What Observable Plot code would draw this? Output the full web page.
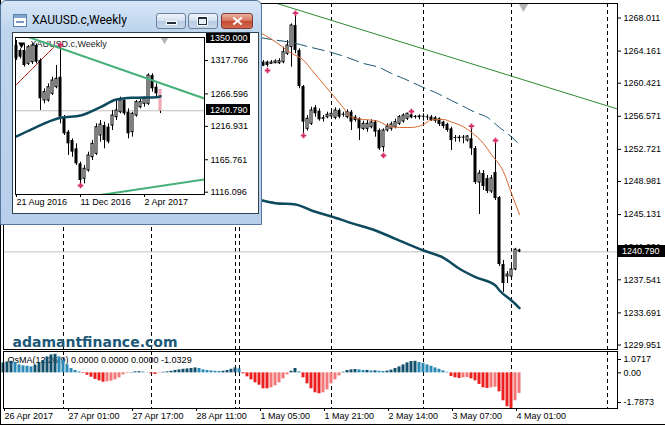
<!DOCTYPE html>
<html>
<head>
<meta charset="utf-8">
<script src="https://cdn.jsdelivr.net/npm/d3@7"></script>
<script src="https://cdn.jsdelivr.net/npm/@observablehq/plot@0.6"></script>
<style>
html,body{margin:0;padding:0;background:#fff;}
#root{position:relative;width:665px;height:425px;overflow:hidden;background:#fff;}
#main{position:absolute;left:0;top:0;width:665px;height:350px;}
#osma{position:absolute;left:0;top:350px;width:665px;height:75px;}
#edgeL{position:absolute;left:0;top:0;width:1px;height:425px;background:#000;}
#edgeB{position:absolute;left:0;top:424px;width:665px;height:1px;background:#000;}
#win{position:absolute;left:0;top:0;width:260px;height:223px;border:1px solid #56779c;border-radius:6px 6px 0 0;
  background:linear-gradient(180deg,#d6e6f7 0px,#bed5ee 28px,#b7cfea 100%);}
#win .title{position:absolute;left:31px;top:11px;font:12px Roboto,'Noto Sans',sans-serif;color:#000;line-height:16px;white-space:nowrap;}
#win .icon{position:absolute;left:12px;top:13px;width:12px;height:11px;border:1px solid #5d80a8;background:#fff;}
#win .icon .bar{position:absolute;left:0;top:0;width:12px;height:3px;background:#7ea4cf;}
#win .icon .ln{position:absolute;left:2px;top:6px;width:8px;height:2px;background:#7a9bbf;}
#win .btn{position:absolute;top:12px;height:14px;border:1px solid #6b8099;border-radius:3px;
  background:linear-gradient(180deg,#f0f5fb 0%,#d3e0ef 48%,#b7cbe2 52%,#c9d9eb 100%);}
#win .min{left:155px;width:28px;}
#win .max{left:187px;width:28px;}
#win .close{left:220px;width:30px;border-color:#7d3b31;
  background:linear-gradient(180deg,#eab0a2 0%,#d8755f 48%,#c54a31 52%,#d06a51 100%);}
#win .gmin{position:absolute;left:9px;top:7px;width:9px;height:2px;background:#1f2f40;border:1px solid #fff;}
#win .gmax{position:absolute;left:9px;top:3px;width:7px;height:5px;border:1px solid #1f2f40;border-top-width:2px;background:#e8f0f8;outline:1px solid #fff;}
#win .gx1,#win .gx2{position:absolute;left:10px;top:6px;width:11px;height:2px;background:#fff;}
#win .gx1{transform:rotate(40deg);} #win .gx2{transform:rotate(-40deg);}
#client{position:absolute;left:11px;top:31px;width:245px;height:180px;border:1px solid #33414f;background:#fff;overflow:hidden;}
</style>
</head>
<body>
<div id="root">
  <div id="main"></div>
  <div id="osma"></div>
  <div id="edgeL"></div>
  <div id="edgeB"></div>
  <div id="win">
    <div class="icon"><div class="bar"></div><div class="ln"></div></div>
    <div class="title" id="wtitle"></div>
    <div class="btn min"><div class="gmin"></div></div>
    <div class="btn max"><div class="gmax"></div></div>
    <div class="btn close"><div class="gx1"></div><div class="gx2"></div></div>
    <div id="client"></div>
  </div>
</div>
<script>
// ---------------- DATA: main H1 chart ----------------
const firstBar = 65;
const opens = [1262.87,1262.87,1262.68,1262.75,1262.75,1262.87,1263.84,1264.62,1267.14,1264.23,
1260.04,1255.11,1255.69,1257.56,1257.17,1256.28,1256.47,1256.55,1256.39,1257.25,
1256.78,1256.47,1257.05,1256.47,1256.28,1255.11,1255.11,1255.30,1255.89,1254.92,
1252.98,1254.92,1255.11,1255.31,1255.69,1255.97,1256.28,1256.74,1256.47,1256.47,
1256.55,1256.47,1256.47,1256.39,1256.28,1255.89,1255.62,1255.11,1254.06,1254.03,
1254.06,1253.75,1253.95,1252.82,1248.86,1249.91,1249.33,1247.82,1250.03,1247.12,
1239.32,1237.92,1237.92,1238.74,1241.00];
const highs = [1263.06,1262.99,1263.06,1263.14,1263.26,1264.62,1265.39,1267.33,1268.30,1264.42,
1260.15,1256.66,1257.63,1257.83,1257.44,1256.66,1257.05,1257.25,1257.56,1257.44,
1257.05,1257.32,1257.25,1256.66,1256.39,1256.00,1256.08,1256.16,1256.08,1255.11,
1255.11,1255.69,1255.89,1256.24,1256.66,1256.86,1256.95,1257.00,1256.66,1256.74,
1256.86,1256.74,1256.66,1256.55,1256.39,1256.00,1255.77,1255.31,1254.33,1254.33,
1254.33,1254.33,1255.11,1253.05,1250.26,1250.26,1249.68,1249.68,1253.40,1247.23,
1239.79,1238.50,1239.09,1241.20,1241.10];
const lows = [1262.35,1262.29,1262.60,1262.68,1262.60,1262.68,1263.65,1262.29,1263.84,1259.77,
1254.60,1254.85,1255.50,1256.47,1256.00,1255.89,1256.28,1256.28,1256.16,1256.28,
1256.47,1256.28,1254.92,1255.89,1253.75,1254.92,1254.72,1255.11,1254.14,1252.59,
1252.40,1254.72,1254.84,1255.11,1255.50,1255.77,1256.08,1256.28,1256.24,1256.16,
1256.00,1256.08,1255.97,1255.77,1255.38,1255.11,1254.72,1252.59,1253.56,1253.56,
1253.37,1253.56,1252.01,1248.63,1245.14,1247.93,1247.58,1247.58,1246.77,1239.09,
1236.06,1237.11,1237.46,1238.60,1240.70];
const closes = [1262.40,1262.48,1262.83,1262.95,1262.99,1264.03,1264.81,1267.14,1264.23,1260.04,
1255.89,1256.28,1257.25,1256.86,1256.16,1256.35,1256.74,1256.86,1257.25,1256.47,
1256.70,1257.05,1255.89,1256.08,1255.11,1255.69,1255.69,1255.85,1254.72,1252.78,
1254.92,1255.38,1255.62,1255.89,1256.47,1256.66,1256.86,1256.39,1256.43,1256.55,
1256.47,1256.39,1256.08,1256.00,1255.62,1255.38,1254.92,1253.75,1253.99,1254.06,
1254.03,1254.22,1252.79,1248.86,1249.91,1248.40,1247.82,1249.33,1247.00,1239.32,
1237.11,1238.15,1238.74,1241.05,1240.79];

const fractalBars = [66, 73, 75, 95, 102, 117, 123];
const fractalPrices = [1261.90, 1268.57, 1254.33, 1252.01, 1257.13, 1255.42, 1253.75];

const maSlowBars = [64, 68, 73, 77, 82, 87, 93, 98, 105, 110, 114, 118, 123, 124, 127, 129];
const maSlowValues = [1246.85,1246.46,1246.31,1245.61,1244.91,1244.13,1243.28,1242.31,1240.95,1240.10,1238.82,1237.84,1236.88,1236.30,1235.13,1234.24];
const maMidBars = [64, 67, 72, 77, 82, 86, 90, 94, 97, 100, 105, 108, 112, 116, 118, 121, 124, 126, 129];
const maMidValues = [1265.74,1265.51,1265.16,1264.58,1264.00,1263.41,1262.72,1262.25,1261.55,1260.97,1259.92,1259.34,1258.41,1257.48,1257.01,1256.43,1255.27,1254.57,1253.29];
const maFastBars = [64, 67, 72, 75, 77, 82, 85, 87, 90, 93, 96, 99, 102, 105, 107, 110, 112, 115, 117, 120, 122, 125, 127, 129];
const maFastValues = [1266.35,1265.55,1263.90,1263.10,1262.00,1259.22,1257.55,1256.47,1256.20,1256.08,1255.50,1255.27,1255.27,1255.62,1256.15,1256.20,1255.90,1255.35,1254.70,1253.40,1252.10,1250.10,1247.59,1245.14];

const trendBars = [60, 153.5];
const trendPrices = [1270.91, 1257.42];

const separatorBars = [15, 37, 58, 59, 82, 105, 127, 151];
const shiftMarkerBar = [130];
const bidPrice = 1240.79;
const priceTicks = [1268.011,1264.161,1260.421,1256.571,1252.721,1248.981,1245.131,1241.291,1237.541,1233.691,1229.951];
const priceDomain = [1229.428, 1269.699];
const watermark = "adamantfinance.com";

const timeIdx = [0, 16, 32, 48, 64, 80, 96, 112, 128];
const timeLabels = ["26 Apr 2017","27 Apr 01:00","27 Apr 17:00","28 Apr 11:00","1 May 05:00","1 May 21:00","2 May 14:00","3 May 07:00","4 May 01:00"];

// ---------------- DATA: OsMA ----------------
const osmaCaption = "OsMA(12,26,9) 0.0000 0.0000 0.0000 -1.0329";
const osmaTicks = [1.0717, 0, -1.7873];
const osmaValues = [
0.50,0.55,0.58,0.52,0.40,0.35,0.33,0.30,0.38,0.50,
0.62,0.80,0.90,0.93,0.80,0.65,0.40,0.22,0.12,0.05,
-0.03,-0.12,-0.22,-0.33,-0.40,-0.47,-0.45,-0.42,-0.35,-0.25,
-0.10,-0.03,0.02,0.05,0.06,0.04,0.01,-0.06,-0.08,-0.02,
0.03,0.05,0.08,0.12,0.15,0.18,0.20,0.22,0.25,0.22,
0.15,0.12,0.10,0.08,0.07,0.08,0.12,0.18,0.25,0.20,
-0.05,-0.20,-0.35,-0.50,-0.62,-0.80,-0.80,-0.75,-0.65,-0.50,
-0.30,-0.10,0.08,0.22,0.05,-0.25,-0.55,-0.80,-1.00,-1.05,
-1.00,-0.85,-0.55,-0.35,-0.15,0.03,0.12,0.15,0.17,0.15,
0.12,0.12,0.10,0.10,0.08,0.07,0.09,0.14,0.22,0.30,
0.40,0.50,0.57,0.58,0.52,0.48,0.40,0.33,0.25,0.18,
0.10,0.03,-0.18,-0.25,-0.28,-0.25,-0.24,-0.30,-0.40,-0.58,
-0.75,-0.78,-0.75,-0.72,-0.95,-1.40,-1.70,-1.78,-1.40,-1.03];

// ---------------- DATA: weekly inset ----------------
const wkTitle = "XAUUSD.c,Weekly";
const wkOpens = [1340.7,1333.1,1333.1,1312.7,1315.2,1340.7,1317.8,1256.5,1256.5,1266.7,
1276.9,1292.2,1231.0,1208.0,1195.3,1182.5,1159.5,1136.6,1149.3,1169.7,
1174.8,1202.9,1218.2,1215.7,1218.2,1231.0,1238.6,1256.5,1238.6,1208.0,
1233.5,1246.3,1251.4,1251.4,1294.8,1276.9,1272.5];
const wkHighs = [1348.4,1335.6,1343.3,1340.7,1343.3,1343.3,1320.3,1274.4,1282.0,1292.2,
1310.1,1338.0,1233.5,1210.6,1197.8,1190.1,1162.1,1157.0,1177.4,1195.3,
1220.8,1225.9,1223.3,1220.8,1241.2,1256.5,1261.6,1259.1,1243.7,1238.6,
1256.5,1259.1,1261.6,1297.4,1297.4,1282.0,1273.0];
const wkLows = [1317.8,1320.3,1307.6,1310.1,1311.6,1312.7,1241.2,1251.4,1254.0,1264.2,
1274.4,1220.8,1202.9,1172.3,1169.7,1157.0,1128.9,1128.9,1146.8,1164.6,
1172.3,1192.7,1182.5,1190.1,1210.6,1225.9,1236.1,1233.5,1197.8,1200.4,
1231.0,1243.7,1246.3,1248.9,1269.3,1261.6,1236.5];
const wkCloses = [1320.3,1322.9,1310.1,1338.2,1340.7,1315.2,1259.1,1269.3,1276.9,1287.1,
1289.7,1231.0,1205.5,1190.1,1177.4,1159.5,1134.0,1151.9,1172.3,1190.1,
1215.7,1219.7,1195.3,1192.7,1233.5,1241.2,1256.5,1236.1,1205.5,1236.1,
1254.0,1254.0,1259.1,1294.8,1274.4,1266.7,1240.79];
const wkMaBars = [0, 4, 11, 16, 21, 25, 29, 35, 36];
const wkMaValues = [1201.4,1213.2,1230.0,1233.5,1246.3,1258.0,1260.6,1261.6,1263.1];
const wkUpperBars = [0, 47], wkUpperPrices = [1360.0, 1259.57];
const wkLowerBars = [20, 47], wkLowerPrices = [1110.9, 1135.53];
const wkRedBars = [-0.25, 9.25], wkRedPrices = [1279.48, 1337.67];
const wkFractalBars = [11, 16], wkFractalPrices = [1341.5, 1126.3];
const wkTicks = [1317.766, 1266.596, 1216.931, 1165.761, 1116.096];
const wkBoxes = [1350.0, 1240.79];
const wkDomain = [1112.56, 1352.99];
const wkTimeIdx = [0, 16, 32];
const wkTimeLabels = ["21 Aug 2016", "11 Dec 2016", "2 Apr 2017"];
const wkShiftBar = [37];

// ---------------- helpers ----------------
const FONT = "'Liberation Sans', Arial, sans-serif";
const baseStyle = {fontFamily: FONT, fontSize: "9px", background: "transparent", color: "#000", overflow: "visible", maxWidth: "none"};
const pts = (xs, ys) => xs.map((x, k) => ({i: x, p: ys[k]}));

function candleMarks(data, minBody) {
  const norm = data.filter(d => !d.current);
  const down = norm.filter(d => d.c < d.o);
  const up = norm.filter(d => d.c >= d.o);
  const cur = data.filter(d => d.current);
  return [
    Plot.ruleX(data, {x: "i", y1: "l", y2: "h", stroke: "#000"}),
    Plot.rect(down, {x1: d => d.i - 0.375, x2: d => d.i + 0.375, y1: "c", y2: d => Math.max(d.o, d.c + minBody), fill: "#000"}),
    Plot.rect(up, {x1: d => d.i - 0.25, x2: d => d.i + 0.25, y1: "o", y2: d => Math.max(d.c, d.o + minBody * 0.4), fill: "#fff", stroke: "#000"}),
    Plot.rect(cur, {x1: d => d.i - 0.25, x2: d => d.i + 0.25, y1: d => Math.min(d.o, d.c), y2: d => Math.max(d.o, d.c), fill: "#f7c6ce", stroke: "#e893a3"})
  ];
}

function boxLabel(svg, x, yc, w, h, label) {
  const g = d3.select(svg).append("g").attr("text-anchor", "start");
  const top = Math.round(yc - h / 2);
  g.append("rect").attr("x", x).attr("y", top).attr("width", w).attr("height", h).attr("fill", "#000");
  g.append("text").attr("x", x + 4).attr("y", top + h / 2).attr("dy", "0.36em").attr("text-anchor", "start")
    .attr("fill", "#fff").attr("font-size", 9).attr("font-family", FONT).text(label);
}

// ---------------- main chart ----------------
const candles = opens.map((o, k) => ({i: firstBar + k, o, h: highs[k], l: lows[k], c: closes[k]}));
const fractals = pts(fractalBars, fractalPrices);

const mainPlot = Plot.plot({
  width: 665, height: 350,
  marginLeft: 3, marginRight: 48, marginTop: 3, marginBottom: 1,
  x: {domain: [0, 153.5], axis: null, label: null},
  y: {domain: priceDomain, label: null},
  style: {...baseStyle, background: "#fff"},
  marks: [
    Plot.ruleX(separatorBars, {x: d => d, stroke: "#000", strokeDasharray: "4,3"}),
    Plot.ruleY([bidPrice], {y: d => d, stroke: "#c0c0c0"}),
    Plot.text([watermark], {text: d => d, frameAnchor: "bottom-left", dx: 9, dy: -3, lineAnchor: "bottom", textAnchor: "start",
      fontFamily: "'DejaVu Sans', Verdana, sans-serif", fontWeight: "bold", fontSize: 14, fill: "#1c5878"}),
    ...candleMarks(candles, 0.12),
    Plot.line(pts(trendBars, trendPrices), {x: "i", y: "p", stroke: "#2f8a2f", strokeWidth: 1, clip: true}),
    Plot.line(pts(maSlowBars, maSlowValues), {x: "i", y: "p", stroke: "#0e4a5e", strokeWidth: 2.5, curve: "monotone-x"}),
    Plot.line(pts(maMidBars, maMidValues), {x: "i", y: "p", stroke: "#1a5672", strokeWidth: 1, strokeDasharray: "12,6", curve: "monotone-x"}),
    Plot.line(pts(maFastBars, maFastValues), {x: "i", y: "p", stroke: "#d8692c", strokeWidth: 1, curve: "monotone-x"}),
    Plot.dot(fractals, {x: "i", y: "p", symbol: "cross", r: 2.3, fill: "#d12d64"}),
    Plot.dot(shiftMarkerBar, {x: d => d, frameAnchor: "top", dy: 3, symbol: "triangle", rotate: 180, r: 3.5, fill: "#b4b4b4"}),
    Plot.frame({stroke: "#000"}),
    Plot.axisY(priceTicks, {anchor: "right", label: null, tickSize: 3, tickPadding: 3, tickFormat: d => d.toFixed(3)})
  ]
});
boxLabel(mainPlot, 618, mainPlot.scale("y").apply(bidPrice), 47, 12, bidPrice.toFixed(3));
document.getElementById("main").appendChild(mainPlot);

// ---------------- OsMA pane ----------------
const osmaBars = osmaValues.map((v, i) => {
  const prev = i > 0 ? osmaValues[i - 1] : v;
  const kind = v >= 0 ? (v >= prev ? "upRise" : "upFall") : (v <= prev ? "dnFall" : "dnRise");
  return {i, v, kind};
});
const osmaColors = {upRise: "#13506c", upFall: "#2a8ab5", dnFall: "#ec1e1e", dnRise: "#f27878"};

const osmaPlot = Plot.plot({
  width: 665, height: 75,
  marginLeft: 3, marginRight: 48, marginTop: 1, marginBottom: 17,
  x: {domain: [0, 153.5], label: null},
  y: {domain: [osmaTicks[2], osmaTicks[0]], label: null},
  style: {...baseStyle, background: "#fff"},
  marks: [
    Plot.ruleX(separatorBars, {x: d => d, stroke: "#000", strokeDasharray: "4,3"}),
    Plot.text([osmaCaption], {text: d => d, frameAnchor: "top-left", dx: 4, dy: 5, lineAnchor: "top", textAnchor: "start", fill: "#000", fontSize: 9}),
    ...Object.keys(osmaColors).map(k =>
      Plot.rect(osmaBars.filter(b => b.kind === k), {x1: d => d.i - 0.375, x2: d => d.i + 0.375, y1: 0, y2: "v", fill: osmaColors[k]})),
    Plot.frame({stroke: "#000"}),
    Plot.axisY([osmaTicks[0]], {anchor: "right", label: null, tickSize: 3, tickPadding: 3, tickFormat: d => d.toFixed(4), dy: 8}),
    Plot.axisY([osmaTicks[1]], {anchor: "right", label: null, tickSize: 3, tickPadding: 3, tickFormat: d => d.toFixed(2)}),
    Plot.axisY([osmaTicks[2]], {anchor: "right", label: null, tickSize: 3, tickPadding: 3, tickFormat: d => d.toFixed(4), dy: -6}),
    Plot.axisX(timeIdx, {anchor: "bottom", label: null, tickSize: 3, tickPadding: 1, textAnchor: "start", dx: 1,
      tickFormat: d => timeLabels[timeIdx.indexOf(d)]})
  ]
});
document.getElementById("osma").appendChild(osmaPlot);

// ---------------- weekly inset ----------------
document.getElementById("wtitle").textContent = wkTitle;
const wkCandles = wkOpens.map((o, k) => ({i: k, o, h: wkHighs[k], l: wkLows[k], c: wkCloses[k], current: k === wkOpens.length - 1}));

const insetPlot = Plot.plot({
  width: 245, height: 180,
  marginLeft: 2, marginRight: 54, marginTop: 4, marginBottom: 19,
  x: {domain: [-0.25, 47], label: null},
  y: {domain: wkDomain, label: null},
  style: {...baseStyle, background: "#fff"},
  marks: [
    Plot.ruleY([bidPrice], {y: d => d, stroke: "#c0c0c0"}),
    Plot.text([wkTitle], {text: d => d, frameAnchor: "top-left", dx: 15, dy: 7, lineAnchor: "middle", textAnchor: "start", fill: "#222", fontSize: 9}),
    Plot.dot([wkTitle], {frameAnchor: "top-left", dx: 6, dy: 7, symbol: "triangle", rotate: 180, r: 2.5, fill: "#000"}),
    Plot.line(pts(wkRedBars, wkRedPrices), {x: "i", y: "p", stroke: "#c0282a", strokeWidth: 1, clip: true}),
    ...candleMarks(wkCandles, 1.6),
    Plot.line(pts(wkUpperBars, wkUpperPrices), {x: "i", y: "p", stroke: "#45b078", strokeWidth: 2, clip: true}),
    Plot.line(pts(wkLowerBars, wkLowerPrices), {x: "i", y: "p", stroke: "#45b078", strokeWidth: 2, clip: true}),
    Plot.line(pts(wkMaBars, wkMaValues), {x: "i", y: "p", stroke: "#0e4a5e", strokeWidth: 2.5, curve: "monotone-x"}),
    Plot.dot(pts(wkFractalBars, wkFractalPrices), {x: "i", y: "p", symbol: "cross", r: 2.3, fill: "#d12d64"}),
    Plot.dot(wkShiftBar, {x: d => d, frameAnchor: "top", dy: 2, symbol: "triangle", rotate: 180, r: 3, fill: "#b4b4b4"}),
    Plot.frame({stroke: "#000"}),
    Plot.axisY(wkTicks, {anchor: "right", label: null, tickSize: 3, tickPadding: 3, tickFormat: d => d.toFixed(3)}),
    Plot.axisX(wkTimeIdx, {anchor: "bottom", label: null, tickSize: 3, tickPadding: 1, textAnchor: "start", dx: 0,
      tickFormat: d => wkTimeLabels[wkTimeIdx.indexOf(d)]})
  ]
});
wkBoxes.forEach(v => boxLabel(insetPlot, 193, insetPlot.scale("y").apply(v) - (v === wkBoxes[0] ? 1.5 : 1), 44, 11, v.toFixed(3)));
document.getElementById("client").appendChild(insetPlot);
</script>
</body>
</html>
